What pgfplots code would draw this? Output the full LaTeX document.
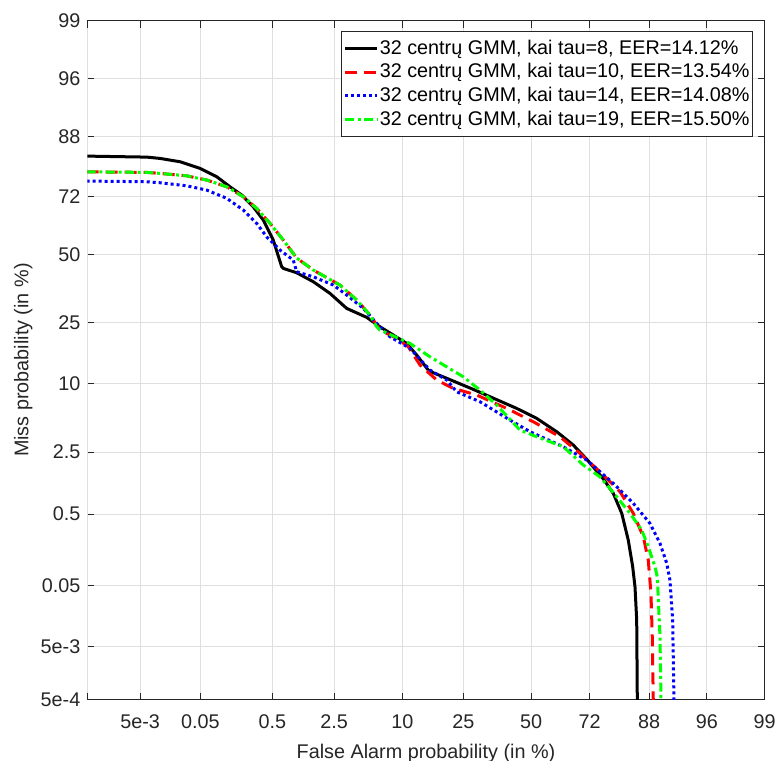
\documentclass[border=0pt]{standalone}
\usepackage{fontspec}
\setmainfont{Liberation Sans}
\usepackage{pgfplots}
\pgfplotsset{compat=1.18}
\definecolor{axcol}{RGB}{38,38,38}
\definecolor{gridcol}{RGB}{223,223,223}
\begin{document}
\fontsize{9.9}{12}\selectfont
\begin{tikzpicture}
\begin{axis}[
 scale only axis, width=338.7pt, height=339.15pt,
 xmin=-4.4172, xmax=2.3263, ymin=-4.4172, ymax=2.3263,
 xtick={-3.8906,-3.2905,-2.5758,-1.9600,-1.2816,-0.6745,0,0.5828,1.1750,1.7507,2.3263},
 xticklabels={5e-3,0.05,0.5,2.5,10,25,50,72,88,96,99},
 extra x ticks={-4.4172}, extra x tick labels={},
 ytick={-4.4172,-3.8906,-3.2905,-2.5758,-1.9600,-1.2816,-0.6745,0,0.5828,1.1750,1.7507,2.3263},
 yticklabels={5e-4,5e-3,0.05,0.5,2.5,10,25,50,72,88,96,99},
 grid=major, major grid style={gridcol, line width=0.5pt},
 tick align=inside, major tick length=3.4pt,
 axis line style={axcol, line width=0.5pt},
 tick style={axcol, line width=0.5pt},
 ticklabel style={font=\fontsize{9.9}{12}\selectfont, text=axcol},
 xticklabel style={yshift=-4pt},
 xlabel={False Alarm probability (in \%)},
 ylabel={Miss probability (in \%)},
 xlabel style={at={(axis description cs:0.5,-0.0875)}, anchor=base, text=axcol, font=\fontsize{9.9}{12}\selectfont},
 ylabel style={at={(axis description cs:-0.0871,0.5)}, anchor=base, text=axcol, font=\fontsize{9.9}{12}\selectfont},
 legend style={at={(axis description cs:0.9832,0.9853)}, anchor=north east, draw=axcol, line width=0.5pt, fill=white,
   font=\fontsize{9.9}{12}\selectfont, inner xsep=1pt, inner ysep=2.5pt, row sep=0pt,
   nodes={inner xsep=0.6pt, inner ysep=1.6pt}},
 legend cell align=left,
 legend image code/.code={\draw[#1] (0pt,0pt) -- (16pt,0pt);},
 /pgf/number format/assume math mode=true,
]
% tau=8 (black, solid)
\addplot[black, line width=1.5pt] coordinates {
(-4.420,0.983) (-3.823,0.973) (-3.693,0.960) (-3.494,0.927) (-3.295,0.861)
(-3.129,0.778) (-2.997,0.678) (-2.880,0.596) (-2.765,0.479) (-2.665,0.347)
(-2.566,0.148) (-2.482,-0.117) (-2.466,-0.133) (-2.333,-0.177) (-2.167,-0.266)
(-2.001,-0.382) (-1.835,-0.531) (-1.636,-0.620) (-1.503,-0.714) (-1.238,-0.879)
(-1.138,-0.995) (-1.023,-1.144) (-0.973,-1.171) (-0.839,-1.226) (-0.575,-1.336)
(-0.408,-1.409) (-0.143,-1.525) (0.056,-1.624) (0.256,-1.757) (0.421,-1.890)
(0.554,-2.030) (0.719,-2.225) (0.819,-2.370) (0.903,-2.568)
(0.968,-2.834) (1.012,-3.099) (1.035,-3.298) (1.052,-3.629) (1.058,-4.424)
(1.059,-4.6)
};
\addlegendentry{32 centrų GMM, kai tau=8, EER=14.12\%}
% tau=10 (red, dashed)
\addplot[red, line width=1.5pt, dash pattern=on 6pt off 3.5pt] coordinates {
(-4.423,0.827) (-3.826,0.821) (-3.693,0.811) (-3.428,0.787) (-3.228,0.745)
(-3.029,0.678) (-2.864,0.579) (-2.731,0.463) (-2.598,0.314) (-2.466,0.148)
(-2.333,-0.030) (-2.167,-0.150) (-1.902,-0.299) (-1.735,-0.448) (-1.603,-0.597)
(-1.503,-0.746) (-1.337,-0.829) (-1.222,-0.912) (-1.105,-1.094) (-0.939,-1.243)
(-0.774,-1.326) (-0.541,-1.392) (-0.242,-1.525) (0.023,-1.658) (0.288,-1.807)
(0.487,-1.972) (0.686,-2.155) (0.886,-2.354) (1.018,-2.568) (1.118,-2.801)
(1.167,-3.033) (1.194,-3.364) (1.207,-3.795) (1.217,-4.424) (1.218,-4.6)
};
\addlegendentry{32 centrų GMM, kai tau=10, EER=13.54\%}
% tau=14 (blue, dotted)
\addplot[blue, line width=1.5pt, dash pattern=on 1.5pt off 1.5pt] coordinates {
(-4.423,0.735) (-3.826,0.728) (-3.693,0.718) (-3.428,0.688) (-3.228,0.645)
(-3.029,0.563) (-2.864,0.447) (-2.731,0.314) (-2.632,0.181) (-2.499,0.049)
(-2.367,-0.050) (-2.333,-0.167) (-2.167,-0.217) (-1.968,-0.299) (-1.835,-0.398)
(-1.670,-0.531) (-1.536,-0.680) (-1.404,-0.813) (-1.205,-0.928) (-1.006,-1.144)
(-0.839,-1.243) (-0.740,-1.360) (-0.508,-1.459) (-0.209,-1.641) (-0.010,-1.757)
(0.321,-1.906) (0.554,-2.039) (0.819,-2.270) (1.018,-2.469) (1.184,-2.668)
(1.284,-2.867) (1.351,-3.065) (1.383,-3.231) (1.410,-3.629) (1.423,-4.424)
(1.424,-4.6)
};
\addlegendentry{32 centrų GMM, kai tau=14, EER=14.08\%}
% tau=19 (green, dash-dot)
\addplot[green, line width=1.5pt, dash pattern=on 4.5pt off 1.8pt on 1.5pt off 1.8pt] coordinates {
(-4.423,0.827) (-3.826,0.821) (-3.693,0.811) (-3.428,0.787) (-3.228,0.745)
(-3.029,0.678) (-2.864,0.579) (-2.731,0.463) (-2.598,0.314) (-2.466,0.148)
(-2.333,-0.030) (-2.167,-0.150) (-1.902,-0.299) (-1.735,-0.448) (-1.603,-0.597)
(-1.536,-0.714) (-1.503,-0.746) (-1.205,-0.879) (-1.006,-1.012) (-0.674,-1.211)
(-0.508,-1.343) (-0.342,-1.492) (-0.110,-1.740) (0.056,-1.807) (0.321,-1.906)
(0.520,-2.088) (0.686,-2.205) (0.853,-2.403) (0.985,-2.568) (1.102,-2.734)
(1.167,-2.900) (1.234,-3.099) (1.257,-3.199) (1.284,-3.795) (1.294,-4.424)
(1.295,-4.6)
};
\addlegendentry{32 centrų GMM, kai tau=19, EER=15.50\%}
\end{axis}
\pgfresetboundingbox
\path[use as bounding box] ([shift={(-43.65pt,-30.35pt)}]current axis.south west) rectangle ([shift={(7.15pt,10.5pt)}]current axis.north east);
\end{tikzpicture}
\end{document}
